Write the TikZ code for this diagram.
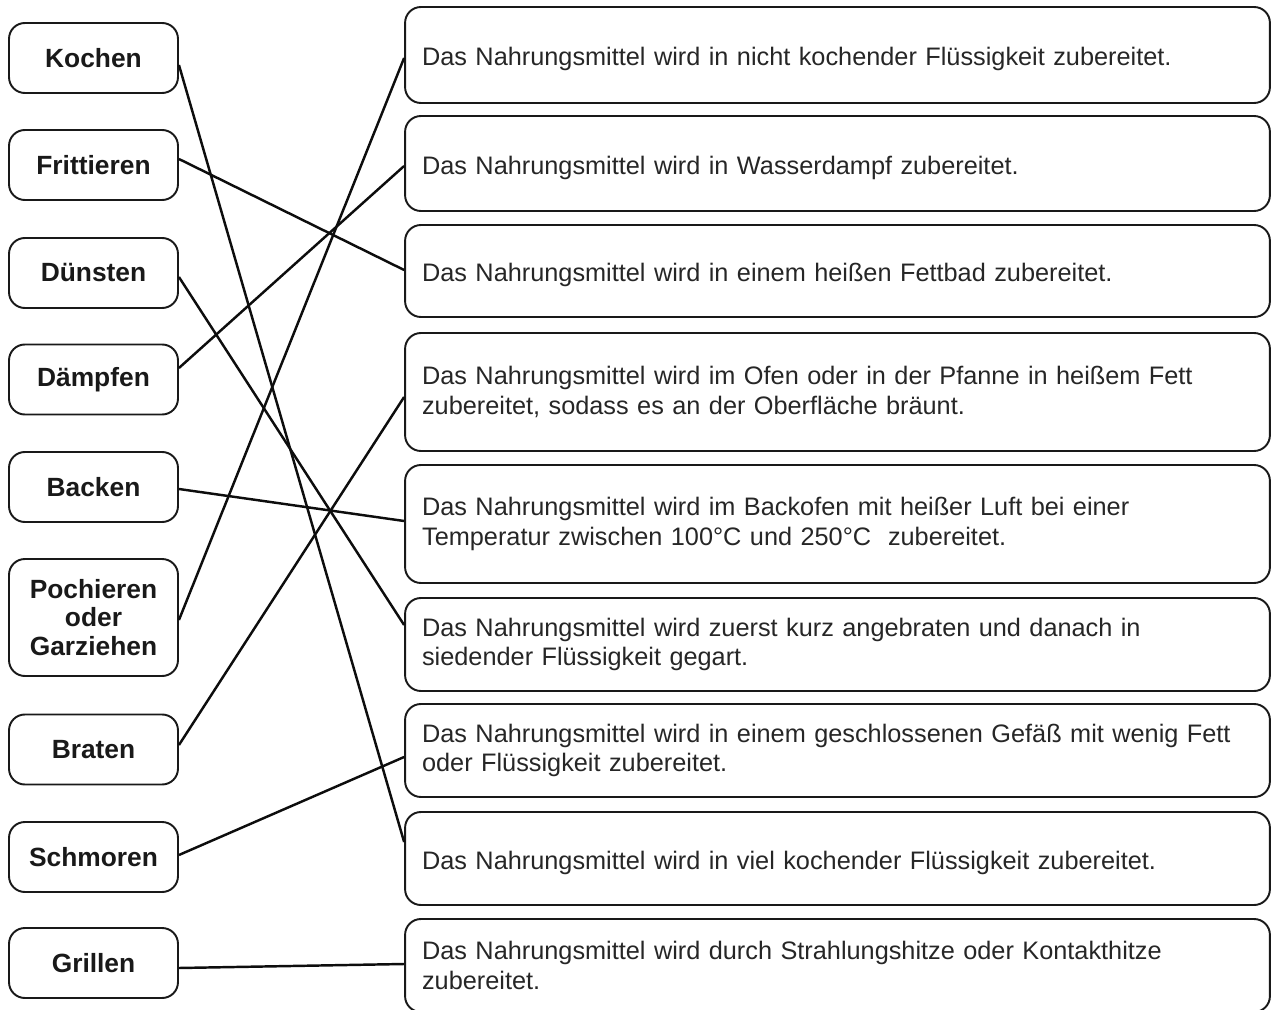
\documentclass[tikz,border=0pt]{standalone}
\usepackage{fontspec}
\setmainfont{Liberation Sans}
\usetikzlibrary{calc}

\begin{document}
\begin{tikzpicture}[x=0.02cm,y=-0.02cm,
    method/.style={draw=black!90,line width=1.1pt,rounded corners=9pt,minimum width=3.38cm,
      minimum height=1.4cm,align=center,text=black!90,
      font=\bfseries\fontsize{15}{16}\selectfont},
    desc/.style={draw=black!90,line width=1.1pt,rounded corners=9pt,text width=16.62cm,
      inner xsep=0.34cm,align=left,text=black!85,font=\fontsize{14.4}{17}\selectfont},
    oneline/.style={text height=12.1pt,text depth=0pt},
    link/.style={line width=1.4pt,black!95}]
  \useasboundingbox (0,0) rectangle (1275,1010);
  % methods
  \node[method] at (93.5,58) (kochen) {Kochen};
  \node[method] at (93.5,165) (frittieren) {Frittieren};
  \node[method] at (93.5,273) (duensten) {Dünsten};
  \node[method] at (93.5,379.5) (daempfen) {Dämpfen};
  \node[method] at (93.5,487) (backen) {Backen};
  \node[method,minimum height=2.34cm] at (93.5,617.5) (pochieren) {Pochieren\\oder\\Garziehen};
  \node[method] at (93.5,749.5) (braten) {Braten};
  \node[method] at (93.5,857) (schmoren) {Schmoren};
  \node[method] at (93.5,963) (grillen) {Grillen};
  % descriptions
  \node[desc,oneline,minimum height=1.92cm] at (837.5,55) (nichtkochend)
    {Das Nahrungsmittel wird in nicht kochender Flüssigkeit zubereitet.};
  \node[desc,oneline,minimum height=1.9cm] at (837.5,163.5) (dampf)
    {Das Nahrungsmittel wird in Wasserdampf zubereitet.};
  \node[desc,oneline,minimum height=1.84cm] at (837.5,271) (fettbad)
    {Das Nahrungsmittel wird in einem heißen Fettbad zubereitet.};
  \node[desc,minimum height=2.36cm] at (837.5,392) (pfanne)
    {Das Nahrungsmittel wird im Ofen oder in der Pfanne in heißem Fett\\zubereitet, sodass es an der Oberfläche bräunt.};
  \node[desc,minimum height=2.36cm] at (837.5,524) (backofen)
    {Das Nahrungsmittel wird im Backofen mit heißer Luft bei einer\\Temperatur zwischen 100°C und 250°C\ \ zubereitet.};
  \node[desc,minimum height=1.86cm] at (837.5,644.5) (angebraten)
    {Das Nahrungsmittel wird zuerst kurz angebraten und danach in\\siedender Flüssigkeit gegart.};
  \node[desc,minimum height=1.86cm] at (837.5,750.5) (gefaess)
    {Das Nahrungsmittel wird in einem geschlossenen Gefäß mit wenig Fett\\oder Flüssigkeit zubereitet.};
  \node[desc,oneline,minimum height=1.86cm] at (837.5,858.5) (vielkochend)
    {Das Nahrungsmittel wird in viel kochender Flüssigkeit zubereitet.};
  \node[desc,minimum height=1.86cm] at (837.5,965.5) (strahlung)
    {Das Nahrungsmittel wird durch Strahlungshitze oder Kontakthitze\\zubereitet.};
  % connectors
  \draw[link] ($(kochen.east)+(0,7)$) -- ($(vielkochend.west)+(0,-16.5)$);
  \draw[link] ($(frittieren.east)+(0,-6)$) -- ($(fettbad.west)+(0,-1)$);
  \draw[link] ($(duensten.east)+(0,4)$) -- ($(angebraten.west)+(0,-19.5)$);
  \draw[link] ($(daempfen.east)+(0,-11.5)$) -- ($(dampf.west)+(0,2.5)$);
  \draw[link] ($(backen.east)+(0,2)$) -- ($(backofen.west)+(0,-3)$);
  \draw[link] ($(pochieren.east)+(0,2.5)$) -- ($(nichtkochend.west)+(0,3)$);
  \draw[link] ($(braten.east)+(0,-4.5)$) -- ($(pfanne.west)+(0,5)$);
  \draw[link] ($(schmoren.east)+(0,-2)$) -- ($(gefaess.west)+(0,6.5)$);
  \draw[link] ($(grillen.east)+(0,5)$) -- ($(strahlung.west)+(0,-1.5)$);
\end{tikzpicture}
\end{document}
